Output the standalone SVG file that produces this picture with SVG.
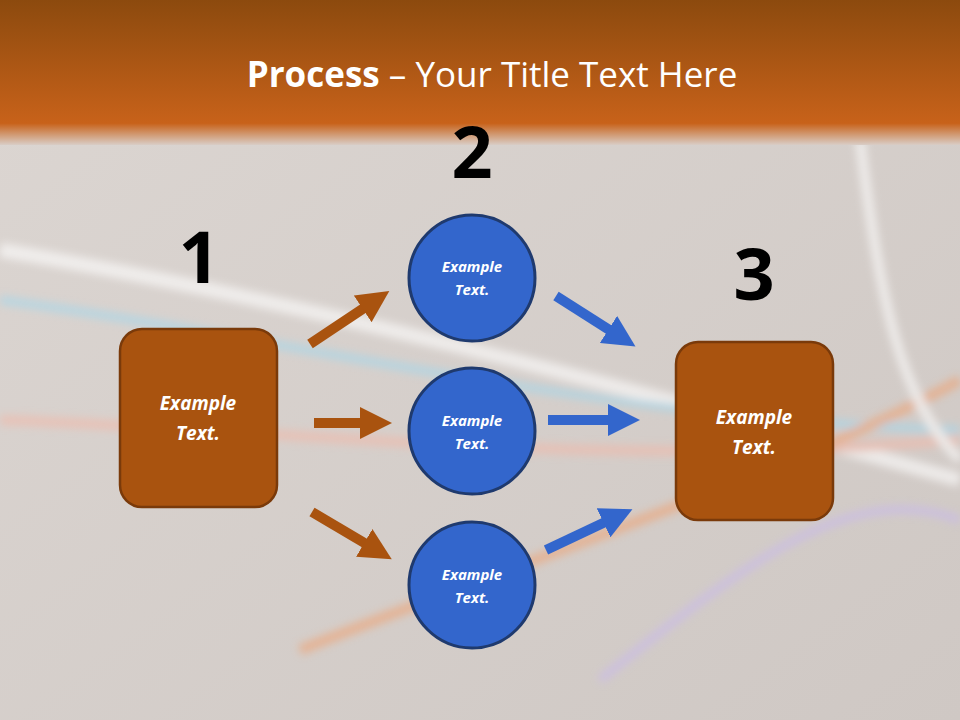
<svg xmlns="http://www.w3.org/2000/svg" width="960" height="720" viewBox="0 0 960 720">
<defs>
<linearGradient id="hdr" x1="0" y1="0" x2="0" y2="1">
<stop offset="0" stop-color="#8c4a0e"/><stop offset="0.85" stop-color="#c8621a"/><stop offset="1" stop-color="#d9cdc6"/>
</linearGradient>
<linearGradient id="bg" x1="0" y1="0" x2="1" y2="1">
<stop offset="0" stop-color="#dcd6d2"/><stop offset="1" stop-color="#cfc8c4"/>
</linearGradient>
<filter id="blur"><feGaussianBlur stdDeviation="4"/></filter>
<marker id="ab" viewBox="0 0 10 10" refX="5" refY="5" markerWidth="3.2" markerHeight="3.2" orient="auto"><path d="M0,0L10,5L0,10z" fill="#a9530f"/></marker>
<marker id="ag" viewBox="0 0 10 10" refX="5" refY="5" markerWidth="3.2" markerHeight="3.2" orient="auto"><path d="M0,0L10,5L0,10z" fill="#3366cc"/></marker>
</defs>
<style>
.box{fill:#a9530f;stroke:#7a3a0a;stroke-width:2.5}
.cir{fill:#3366cc;stroke:#1f3a6e;stroke-width:3}
.t{font-family:"Open Sans","Liberation Sans",sans-serif;font-style:italic;font-weight:bold;fill:#fff;text-anchor:middle}
.num{font-family:"Open Sans","Liberation Sans",sans-serif;font-weight:bold;font-size:72px;fill:#000;text-anchor:middle}
.ba{stroke:#a9530f;stroke-width:10;fill:none;marker-end:url(#ab)}
.ga{stroke:#3366cc;stroke-width:10;fill:none;marker-end:url(#ag)}
</style>
<rect width="960" height="720" fill="url(#bg)"/>
<g filter="url(#blur)" fill="none" opacity="0.6">
<path d="M0,250 C300,300 600,380 960,480" stroke="#ffffff" stroke-width="14"/>
<path d="M0,300 C300,340 600,420 960,430" stroke="#9fd8f0" stroke-width="8"/>
<path d="M0,420 C300,430 600,470 960,440" stroke="#f2b8a8" stroke-width="10"/>
<path d="M300,650 C550,550 800,470 960,380" stroke="#f0a070" stroke-width="10"/>
<path d="M860,140 C880,300 900,400 960,460" stroke="#ffffff" stroke-width="10"/>
<path d="M600,680 C750,560 850,480 960,520" stroke="#c8b8f0" stroke-width="8"/>
</g>
<rect width="960" height="145" fill="url(#hdr)"/>
<text x="492" y="87" text-anchor="middle" font-family="Open Sans,Liberation Sans,sans-serif" font-size="35" fill="#fff"><tspan font-weight="bold">Process</tspan> – Your Title Text Here</text>
<g id="connectors">
<line class="ba" x1="310" y1="344" x2="376" y2="300"/>
<line class="ba" x1="314" y1="423" x2="376" y2="423"/>
<line class="ba" x1="312" y1="512" x2="378" y2="551"/>
<line class="ga" x1="556" y1="296" x2="622" y2="338"/>
<line class="ga" x1="548" y1="420" x2="624" y2="420"/>
<line class="ga" x1="546" y1="550" x2="618" y2="516"/>
</g>
<g id="n1"><text class="num" x="199" y="283">1</text><rect class="box" x="120" y="329" width="157" height="178" rx="22"/><text class="t" font-size="19" x="198" y="410">Example</text><text class="t" font-size="19" x="198" y="440">Text.</text></g>
<g id="n2"><text class="num" x="472" y="178">2</text><circle class="cir" cx="472" cy="278" r="63"/><text class="t" font-size="15" x="472" y="272">Example</text><text class="t" font-size="15" x="472" y="295">Text.</text></g>
<g id="n2b"><circle class="cir" cx="472" cy="431" r="63"/><text class="t" font-size="15" x="472" y="426">Example</text><text class="t" font-size="15" x="472" y="449">Text.</text></g>
<g id="n2c"><circle class="cir" cx="472" cy="585" r="63"/><text class="t" font-size="15" x="472" y="580">Example</text><text class="t" font-size="15" x="472" y="603">Text.</text></g>
<g id="n3"><text class="num" x="754" y="300">3</text><rect class="box" x="676" y="342" width="157" height="178" rx="22"/><text class="t" font-size="19" x="754" y="424">Example</text><text class="t" font-size="19" x="754" y="454">Text.</text></g>
</svg>
